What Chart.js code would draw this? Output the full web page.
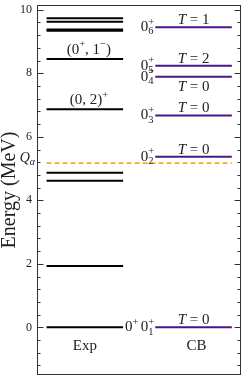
<!DOCTYPE html>
<html>
<head>
<meta charset="utf-8">
<script src="https://cdn.jsdelivr.net/npm/chart.js@4"></script>
<style>
  html, body { margin: 0; padding: 0; background: #fff; }
</style>
</head>
<body>
<canvas id="levels" width="250" height="379"></canvas>
<script>
// experimental levels (MeV)
const expEnergies = [0, 1.93, 4.62, 4.87, 6.87, 8.45, 9.34, 9.38, 9.62, 9.73];
// spin-parity labels for some exp levels
const expLabelEnergies = [8.45, 6.87];
const expLabels = [
  [{t: '(0'}, {sup: '+'}, {t: ', 1'}, {sup: '\u2212'}, {t: ')'}],
  [{t: '(0, 2)'}, {sup: '+'}]
];
// CB 0+ states
const cbEnergies = [0, 5.37, 6.67, 7.89, 8.24, 9.45];
const cbIndex = ['1', '2', '3', '4', '5', '6'];
const cbIsospin = ['0', '0', '0', '0', '2', '1'];
const qAlpha = 5.17;
const columns = ['Exp', 'CB'];
const yTicks = [0, 2, 4, 6, 8, 10];
const yMinorStep = 0.4;

// column extents in x units
const expSpan = [0, 1];
const cbSpan = [1.42, 2.42];

const SERIF = '"Liberation Serif", "DejaVu Serif", serif';
const INK = '#222';

function fnt(size, italic) {
  return (italic ? 'italic ' : '') + size + 'px ' + SERIF;
}

function partWidth(ctx, p, size) {
  if (p.sup !== undefined || p.sub !== undefined) {
    ctx.font = fnt(size * 0.7, p.it);
    return Math.max(p.sup ? ctx.measureText(p.sup).width : 0,
                    p.sub ? ctx.measureText(p.sub).width : 0);
  }
  ctx.font = fnt(size, p.it);
  return ctx.measureText(p.t).width;
}

// draws text with super/subscripts, vertically centred on y
function drawRich(ctx, parts, x, y, align, size) {
  const w = parts.reduce((s, p) => s + partWidth(ctx, p, size), 0);
  let cx = align === 'center' ? x - w / 2 : align === 'right' ? x - w : x;
  ctx.textAlign = 'left';
  ctx.textBaseline = 'middle';
  parts.forEach(p => {
    const pw = partWidth(ctx, p, size);
    if (p.sup !== undefined || p.sub !== undefined) {
      ctx.font = fnt(size * 0.7, p.it);
      if (p.sup) ctx.fillText(p.sup, cx, y - size * 0.36);
      if (p.sub) ctx.fillText(p.sub, cx, y + size * 0.3);
    } else {
      ctx.font = fnt(size, p.it);
      ctx.fillText(p.t, cx, y);
    }
    cx += pw;
  });
}

function levelLine(E, span, color, width, dash) {
  return {
    data: [{x: span[0], y: E}, {x: span[1], y: E}],
    borderColor: color,
    borderWidth: width,
    borderDash: dash || [],
    borderCapStyle: 'butt',
    pointRadius: 0,
    fill: false
  };
}

const datasets = [];
datasets.push(levelLine(qAlpha, [expSpan[0], cbSpan[1]], '#ffa51f', 1.8, [5, 3]));
expEnergies.forEach(E => datasets.push(levelLine(E, expSpan, '#000', 2)));
cbEnergies.forEach(E => datasets.push(levelLine(E, cbSpan, '#4b1587', 2)));

const decorations = {
  id: 'decorations',
  afterDatasetsDraw(chart) {
    const ctx = chart.ctx;
    const xs = chart.scales.x, ys = chart.scales.y;
    const a = chart.chartArea;
    ctx.save();

    // frame
    ctx.strokeStyle = '#333';
    ctx.lineWidth = 1;
    ctx.strokeRect(Math.round(a.left) + 0.5, Math.round(a.top) + 0.5,
                   Math.round(a.right - a.left) - 1, Math.round(a.bottom - a.top) - 1);

    // inward ticks on both sides
    const L = Math.round(a.left) + 0.5, R = Math.round(a.right) - 0.5;
    ctx.beginPath();
    for (let v = Math.ceil(ys.min / yMinorStep) * yMinorStep; v <= ys.max + 1e-9; v += yMinorStep) {
      const major = yTicks.some(t => Math.abs(t - v) < 1e-6);
      const len = major ? 6 : 3;
      const y = Math.round(ys.getPixelForValue(v)) + 0.5;
      ctx.moveTo(L, y); ctx.lineTo(L + len, y);
      ctx.moveTo(R, y); ctx.lineTo(R - len, y);
    }
    ctx.stroke();

    ctx.fillStyle = INK;
    const expMid = xs.getPixelForValue((expSpan[0] + expSpan[1]) / 2);
    const cbMid = xs.getPixelForValue((cbSpan[0] + cbSpan[1]) / 2);

    // exp spin labels
    expLabelEnergies.forEach((E, i) => {
      drawRich(ctx, expLabels[i], expMid + 4, ys.getPixelForValue(E) - 9, 'center', 15);
    });
    drawRich(ctx, [{t: '0'}, {sup: '+'}], xs.getPixelForValue(expSpan[1]) + 2,
             ys.getPixelForValue(expEnergies[0]), 'left', 15);

    // CB labels
    cbEnergies.forEach((E, i) => {
      const y = ys.getPixelForValue(E);
      drawRich(ctx, [{t: '0'}, {sup: '+', sub: cbIndex[i]}],
               xs.getPixelForValue(cbSpan[0]) - 1, y, 'right', 15);
      const above = cbEnergies.find(e => e > E);
      const below = above !== undefined && above - E < 0.5;
      drawRich(ctx, [{t: 'T', it: true}, {t: ' = ' + cbIsospin[i]}],
               cbMid, below ? y + 10 : y - 7, 'center', 15);
    });

    // Q alpha
    drawRich(ctx, [{t: 'Q', it: true}, {sub: '\u03b1', it: true}],
             a.left - 2, ys.getPixelForValue(qAlpha) - 5, 'right', 14);

    // column names
    const yc = ys.getPixelForValue(0) + 19;
    drawRich(ctx, [{t: columns[0]}], expMid, yc, 'center', 15);
    drawRich(ctx, [{t: columns[1]}], cbMid + 3, yc, 'center', 15);

    ctx.restore();
  }
};

new Chart(document.getElementById('levels'), {
  type: 'line',
  data: {datasets},
  options: {
    responsive: false,
    animation: false,
    devicePixelRatio: 1,
    layout: {padding: {left: 0, right: 9, top: 5, bottom: 4}},
    plugins: {legend: {display: false}, tooltip: {enabled: false}},
    scales: {
      x: {type: 'linear', min: -0.125, max: 2.54, display: false},
      y: {
        type: 'linear',
        min: -1.5,
        max: 10.15,
        afterBuildTicks: s => { s.ticks = yTicks.map(v => ({value: v})); },
        afterFit: s => { s.width = 37; s.paddingTop = 0; s.paddingBottom = 0; },
        grid: {display: false, drawTicks: false},
        border: {display: false},
        ticks: {padding: 5, color: INK, font: {family: SERIF, size: 12}},
        title: {
          display: true,
          text: 'Energy (MeV)',
          color: INK,
          font: {family: SERIF, size: 20, lineHeight: 1},
          padding: {top: 0, bottom: 0}
        }
      }
    }
  },
  plugins: [decorations]
});
</script>
</body>
</html>
